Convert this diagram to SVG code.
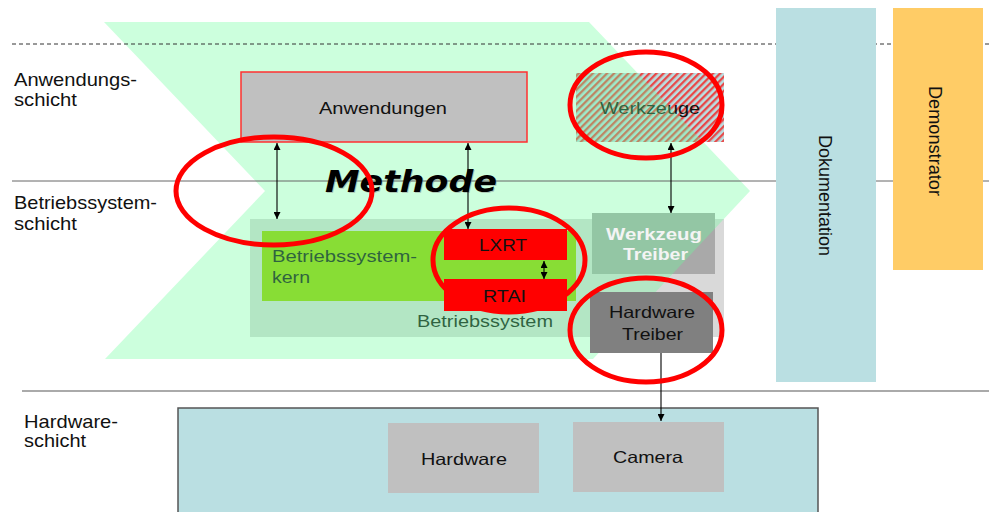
<svg xmlns="http://www.w3.org/2000/svg" width="989" height="512" viewBox="0 0 989 512">
  <defs>
    <style>
      .t { font-family: "Liberation Sans", Arial, sans-serif; fill: #111; }
      .lbl { font-size: 19px; }
      .box { font-size: 16.5px; }
      .bold { font-weight: bold; fill: #f4f4f4; font-size: 17px; }
      .conn { stroke: #000; stroke-width: 1.1; fill: none; }
      .ring { fill: none; stroke: #ff0000; stroke-width: 5; }
    </style>
    <marker id="ah" viewBox="0 0 10 10" refX="10" refY="5" markerWidth="7" markerHeight="7" markerUnits="userSpaceOnUse" orient="auto-start-reverse">
      <path d="M0,0 L10,5 L0,10 z" fill="#000"/>
    </marker>
    <pattern id="hatch" width="5" height="5" patternUnits="userSpaceOnUse" patternTransform="rotate(45)">
      <rect width="5" height="5" fill="#badfe2"/>
      <rect width="2.3" height="5" fill="#e84848"/>
    </pattern>
  </defs>

  <rect width="989" height="512" fill="#fff"/>

  <!-- operating system layer block (sits under the translucent method arrow) -->
  <g id="betriebssystem">
    <rect x="250" y="219" width="474" height="118" fill="#d9d9d9"/>
    <text class="t box" x="417" y="327" textLength="136" lengthAdjust="spacingAndGlyphs">Betriebssystem</text>
  </g>
  <g id="kern">
    <rect x="262" y="231" width="314" height="70" fill="#98cc00"/>
    <text class="t box" x="272" y="262" textLength="145" lengthAdjust="spacingAndGlyphs">Betriebssystem-</text>
    <text class="t box" x="272" y="283" textLength="38" lengthAdjust="spacingAndGlyphs">kern</text>
  </g>
  <g id="werkzeuge">
    <rect x="576" y="73" width="148" height="69" fill="url(#hatch)"/>
    <text class="t box" x="600" y="114" textLength="100" lengthAdjust="spacingAndGlyphs">Werkzeuge</text>
  </g>
  <g id="werkzeug-treiber">
    <rect x="592" y="213" width="123" height="61" fill="#a9a9a9"/>
  </g>

  <!-- method chevron, translucent -->
  <g id="methode-pfeil">
    <polygon points="104,22 589,22 750,191 593,359 105,359 265,191" fill="#6aff9c" fill-opacity="0.342"/>
  </g>

  <!-- tool driver caption stays bright on top of the chevron -->
  <g id="werkzeug-treiber-text">
    <text class="t bold" x="606" y="240" textLength="96" lengthAdjust="spacingAndGlyphs">Werkzeug</text>
    <text class="t bold" x="623" y="260" textLength="65" lengthAdjust="spacingAndGlyphs">Treiber</text>
  </g>

  <!-- layer separators -->
  <g id="trennlinien">
    <line x1="12" y1="44" x2="989" y2="44" stroke="#333" stroke-width="1" stroke-dasharray="4,3"/>
    <line x1="12" y1="181" x2="989" y2="181" stroke="#666" stroke-width="1"/>
    <line x1="22" y1="391" x2="989" y2="391" stroke="#aaa" stroke-width="2"/>
  </g>

  <!-- layer labels -->
  <g id="schichten">
    <text class="t lbl" x="14" y="86" textLength="123" lengthAdjust="spacingAndGlyphs">Anwendungs-</text>
    <text class="t lbl" x="14" y="106" textLength="63" lengthAdjust="spacingAndGlyphs">schicht</text>
    <text class="t lbl" x="14" y="209" textLength="143" lengthAdjust="spacingAndGlyphs">Betriebssystem-</text>
    <text class="t lbl" x="14" y="230" textLength="63" lengthAdjust="spacingAndGlyphs">schicht</text>
    <text class="t lbl" x="24" y="428" textLength="94" lengthAdjust="spacingAndGlyphs">Hardware-</text>
    <text class="t lbl" x="24" y="447" textLength="62" lengthAdjust="spacingAndGlyphs">schicht</text>
  </g>

  <g id="anwendungen">
    <rect x="241" y="72" width="286" height="70" fill="#c0c0c0" stroke="#ff3030" stroke-width="1.5"/>
    <text class="t box" x="319" y="114" textLength="128" lengthAdjust="spacingAndGlyphs">Anwendungen</text>
  </g>
  <g id="lxrt">
    <rect x="444" y="229" width="123" height="31" fill="#ff0000"/>
    <text class="t box" x="479" y="251" textLength="48" lengthAdjust="spacingAndGlyphs">LXRT</text>
  </g>
  <g id="rtai">
    <rect x="444" y="279" width="123" height="32" fill="#ff0000"/>
    <text class="t box" x="483" y="302" textLength="43" lengthAdjust="spacingAndGlyphs">RTAI</text>
  </g>
  <g id="hardware-treiber">
    <rect x="590" y="292" width="123" height="61" fill="#808080"/>
    <text class="t box" x="609" y="318" textLength="86" lengthAdjust="spacingAndGlyphs">Hardware</text>
    <text class="t box" x="622" y="340" textLength="61" lengthAdjust="spacingAndGlyphs">Treiber</text>
  </g>

  <g id="methode">
    <text x="326" y="193" font-family="'DejaVu Sans', Verdana, sans-serif" font-size="30" font-weight="bold" font-style="italic" fill="#888" fill-opacity="0.45" textLength="172" lengthAdjust="spacingAndGlyphs">Methode</text>
    <text x="325" y="192" font-family="'DejaVu Sans', Verdana, sans-serif" font-size="30" font-weight="bold" font-style="italic" fill="#000" textLength="172" lengthAdjust="spacingAndGlyphs">Methode</text>
  </g>

  <!-- hardware layer -->
  <g id="hardwareschicht">
    <rect x="178" y="408" width="640" height="110" fill="#badfe2" stroke="#555" stroke-width="1.5"/>
  </g>
  <g id="hardware">
    <rect x="388" y="423" width="151" height="70" fill="#c0c0c0"/>
    <text class="t box" x="421" y="465" textLength="86" lengthAdjust="spacingAndGlyphs">Hardware</text>
  </g>
  <g id="camera">
    <rect x="573" y="422" width="151" height="70" fill="#c0c0c0"/>
    <text class="t box" x="613" y="463" textLength="70" lengthAdjust="spacingAndGlyphs">Camera</text>
  </g>

  <!-- connectors -->
  <g id="connectors">
    <line class="conn" x1="277" y1="143" x2="277" y2="219" marker-start="url(#ah)" marker-end="url(#ah)"/>
    <line class="conn" x1="468" y1="143" x2="468" y2="229" marker-start="url(#ah)" marker-end="url(#ah)"/>
    <line class="conn" x1="671" y1="143" x2="671" y2="213" marker-start="url(#ah)" marker-end="url(#ah)"/>
    <line class="conn" x1="544" y1="261" x2="544" y2="279" marker-start="url(#ah)" marker-end="url(#ah)"/>
    <line class="conn" x1="661" y1="353" x2="661" y2="421" stroke="#444" marker-end="url(#ah)"/>
  </g>

  <!-- side columns -->
  <g id="dokumentation">
    <rect x="776" y="8" width="100" height="374" fill="#badfe2"/>
    <text class="t" font-size="18.5" transform="translate(819,135) rotate(90)" textLength="121" lengthAdjust="spacingAndGlyphs">Dokumentation</text>
  </g>
  <g id="demonstrator">
    <rect x="893" y="8" width="90" height="262" fill="#ffcc66"/>
    <text class="t" font-size="18" transform="translate(929,86) rotate(90)" textLength="110" lengthAdjust="spacingAndGlyphs">Demonstrator</text>
  </g>

  <!-- highlight rings -->
  <g id="markierungen">
    <ellipse class="ring" cx="274" cy="191" rx="98" ry="54"/>
    <ellipse class="ring" cx="509" cy="260" rx="76" ry="52"/>
    <ellipse class="ring" cx="646" cy="105" rx="76" ry="53"/>
    <ellipse class="ring" cx="646" cy="330" rx="76" ry="52"/>
  </g>
</svg>
